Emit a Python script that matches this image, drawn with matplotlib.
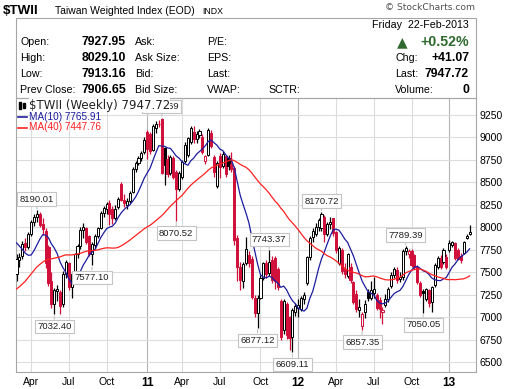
import numpy as np
import pandas as pd
import matplotlib
matplotlib.use('Agg')
import matplotlib.pyplot as plt
from matplotlib.patches import Rectangle

# weekly bars, first bar is the week ending 26-Feb-2010
first_week = '2010-02-26'

# closes before the first visible bar (needed for the moving averages)
prior_closes = [6700, 6620, 6550, 6300, 6430, 6560, 6620, 6900, 6950, 6830,
                6880, 6940, 7020, 7050, 6820, 6960, 7200, 7400, 7480, 7500,
                7580, 7680, 7500, 7400, 7560, 7700, 7730, 7800, 7780, 7910,
                8030, 8180, 8200, 8160, 8050, 7640, 7520, 7390, 7460]

opens = [
    7480, 7640, 7680, 7830, 7780, 7930, 8060, 8120, 8150, 8040,   # 0
    7960, 7780, 7400, 7150, 7290, 7280, 7150, 7480, 7600, 7340,   # 10
    7480, 7700, 7790, 7970, 7990, 7900, 7700, 7800, 7900, 7990,   # 20
    8160, 8210, 8270, 8210, 8110, 8230, 8480, 8300, 8250, 8290,   # 30
    8390, 8650, 8720, 8770, 8840, 9060, 9040, 8860, 9100, 9150,   # 40
    9200, 8880, 8760, 8600, 8770, 8620, 8430, 8560, 8740, 8800,   # 50
    8950, 9060, 8980, 9030, 9000, 8740, 8800, 9050, 8780, 8460,   # 60
    8790, 8680, 8790, 8770, 8700, 8660, 7880, 7560, 7400, 7600,   # 70
    7690, 7650, 7220, 7050, 7220, 7440, 7600, 7490, 7640, 7660,   # 80
    7540, 7180, 6860, 7150, 7000, 6780, 7060, 7100, 7090, 7200,   # 90
    7380, 7670, 7890, 7930, 8010, 7990, 8120, 7930, 8040, 8100,   # 100
    7950, 7600, 7750, 7540, 7460, 7560, 7390, 7260, 7080, 6900,   # 110
    7060, 7280, 7210, 7270, 7250, 7190, 7060, 7140, 7200, 7350,   # 120
    7470, 7530, 7430, 7450, 7740, 7700, 7740, 7690, 7560, 7380,   # 130
    7290, 7200, 7300, 7170, 7360, 7560, 7660, 7610, 7670, 7750,   # 140
    7800, 7825, 7750, 7680, 7720, 7880, 7927.95]                  # 150
highs = [
    7700, 7720, 7850, 7880, 7950, 8080, 8150, 8190.01, 8170, 8100,
    7990, 7800, 7500, 7330, 7360, 7300, 7520, 7640, 7620, 7500,
    7720, 7820, 8000, 8050, 8010, 7920, 7840, 7930, 8010, 8180,
    8240, 8280, 8300, 8240, 8250, 8340, 8500, 8370, 8330, 8400,
    8670, 8740, 8790, 8850, 9000, 9080, 9060, 9150, 9180, 9190,
    9220.69, 8890, 8800, 8800, 8790, 8640, 8630, 8750, 8950, 9010,
    9130, 9130, 9070, 9090, 9040, 8800, 9100, 9080, 8800, 8740,
    8830, 8850, 8800, 8800, 8840, 8680, 7920, 7620, 7620, 7890,
    7740, 7680, 7250, 7250, 7470, 7620, 7640, 7743.37, 7680, 7680,
    7560, 7200, 7200, 7170, 7020, 7100, 7160, 7200, 7240, 7280,
    7680, 7900, 7990, 8050, 8100, 8170.72, 8140, 8060, 8120, 8110,
    7960, 7790, 7770, 7600, 7720, 7600, 7400, 7300, 7200, 7060,
    7190, 7320, 7400, 7450, 7270, 7230, 7120, 7260, 7340, 7500,
    7560, 7560, 7500, 7760, 7789.39, 7760, 7760, 7700, 7580, 7400,
    7320, 7330, 7310, 7350, 7600, 7680, 7690, 7770, 7700, 7860,
    7850, 7840, 7770, 7720, 7850, 7930, 8029.10]
lows = [
    7400, 7560, 7650, 7740, 7760, 7900, 8020, 8060, 8000, 7920,
    7550, 7350, 7100, 7032.40, 7180, 7040, 7120, 7440, 7300, 7220,
    7460, 7660, 7760, 7880, 7810, 7680, 7577.10, 7760, 7880, 7980,
    8120, 8150, 8030, 8040, 8080, 8200, 8290, 8230, 8200, 8270,
    8380, 8620, 8690, 8740, 8820, 8760, 8820, 8850, 9050, 9120,
    8590, 8470, 8560, 8580, 8540, 8070.52, 8400, 8540, 8720, 8780,
    8930, 8940, 8940, 8990, 8820, 8700, 8790, 8880, 8560, 8440,
    8550, 8660, 8560, 8640, 8620, 7800, 7400, 7300, 7330, 7580,
    7560, 7200, 7000, 6877.12, 7200, 7420, 7440, 7460, 7380, 7320,
    7300, 6750, 6820, 6760, 6640, 6609.11, 7020, 7000, 7070, 7150,
    7360, 7640, 7840, 7900, 7960, 7960, 7840, 7900, 7980, 7900,
    7720, 7580, 7480, 7440, 7440, 7380, 7150, 7060, 7000, 6857.35,
    6990, 7180, 7190, 7220, 7080, 6990, 6930, 7120, 7170, 7330,
    7440, 7380, 7390, 7420, 7690, 7660, 7560, 7540, 7370, 7230,
    7050.05, 7180, 7120, 7060, 7340, 7540, 7540, 7590, 7540, 7730,
    7780, 7640, 7640, 7600, 7700, 7870, 7913.16]
closes = [
    7650, 7670, 7820, 7780, 7930, 8060, 8120, 8150, 8030, 7980,
    7600, 7380, 7150, 7300, 7320, 7130, 7480, 7610, 7340, 7480,
    7700, 7790, 7970, 8000, 7840, 7700, 7810, 7900, 7990, 8160,
    8220, 8260, 8150, 8100, 8200, 8320, 8300, 8270, 8290, 8380,
    8650, 8720, 8770, 8830, 8970, 8870, 8850, 9130, 9150, 9145,
    8610, 8690, 8590, 8780, 8560, 8430, 8610, 8730, 8920, 8990,
    9110, 8980, 9040, 9070, 8840, 8790, 9080, 8900, 8620, 8720,
    8670, 8820, 8590, 8680, 8650, 7860, 7560, 7420, 7590, 7760,
    7600, 7230, 7050, 7220, 7440, 7600, 7480, 7610, 7420, 7400,
    7340, 6780, 7180, 6800, 6770, 7080, 7130, 7140, 7220, 7250,
    7670, 7880, 7960, 8010, 8080, 8150, 7930, 8040, 8060, 7940,
    7750, 7770, 7510, 7480, 7700, 7410, 7170, 7090, 7110, 7040,
    7150, 7220, 7300, 7320, 7100, 7090, 7080, 7200, 7320, 7470,
    7540, 7420, 7450, 7740, 7770, 7740, 7580, 7560, 7390, 7250,
    7270, 7310, 7160, 7340, 7580, 7660, 7560, 7750, 7560, 7830,
    7840, 7660, 7650, 7640, 7836, 7906.65, 7947.72]

# bars that carry a value label
peak_bars = [7, 50, 87, 105, 134]
trough_bars = [13, 26, 55, 83, 95, 119, 140]

price_ticks = [6500, 6750, 7000, 7250, 7500, 7750, 8000, 8250, 8500, 8750, 9000, 9250]

W, H = 511, 389
RED = '#d0103a'
GRID = '#dcdcdc'
FRAME = '#a6a6a6'


def fx(px):
    return px / W


def fy(py):
    return 1 - py / H


n = len(closes)
idx = np.arange(n)
dates = pd.date_range(first_week, periods=n, freq='W-FRI')
all_closes = pd.Series(prior_closes + closes, dtype=float)
ma10 = all_closes.rolling(10).mean().to_numpy()[-n:]
ma40 = all_closes.rolling(40).mean().to_numpy()[-n:]
prev_close = [prior_closes[-1]] + closes[:-1]

fig = plt.figure(figsize=(W / 100, H / 100), dpi=100)
ax = fig.add_axes([fx(15.7), fy(372), fx(460), 274 / H])

# candles
for i in idx:
    o, h, l, c = opens[i], highs[i], lows[i], closes[i]
    col = 'black' if c >= prev_close[i] else RED
    face = col if c < o else 'white'
    ax.vlines(i, l, h, color=col, lw=0.9, zorder=2)
    body = max(abs(c - o), 6)
    ax.add_patch(Rectangle((i - 0.36, min(o, c)), 0.72, body,
                           facecolor=face, edgecolor=col, lw=0.7, zorder=3))

ax.plot(idx, ma10, color='#1c1ca0', lw=0.9, zorder=4)
ax.plot(idx, ma40, color='#ff2020', lw=0.9, zorder=4)

# value labels
lab_font = dict(family='Liberation Sans', size=6.8, color='#202020')
box = dict(boxstyle='square,pad=0.25', fc='white', ec='#c4c4c4', lw=0.8)
for i in peak_bars:
    ax.annotate(f'{highs[i]:.2f}', (i, highs[i]), xytext=(0, 11),
                textcoords='offset pixels', ha='center', va='center',
                bbox=box, zorder=6, **lab_font,
                arrowprops=dict(arrowstyle='-', color='#c4c4c4', lw=0.8,
                                shrinkA=0, shrinkB=1))
for i in trough_bars:
    ax.annotate(f'{lows[i]:.2f}', (i, lows[i]), xytext=(0, -12),
                textcoords='offset pixels', ha='center', va='center',
                bbox=box, zorder=6, **lab_font,
                arrowprops=dict(arrowstyle='-', color='#c4c4c4', lw=0.8,
                                shrinkA=0, shrinkB=1))

# axes
ax.set_xlim(-0.28, 158.1)
ax.set_ylim(6392, 9439)
ax.set_yticks(price_ticks)
ax.yaxis.tick_right()
ax.tick_params(axis='y', length=0, pad=2.5, labelsize=7.5)
for t in ax.get_yticklabels():
    t.set_family('Liberation Sans')
ax.grid(axis='y', color=GRID, lw=0.8, zorder=0)

tick_pos, tick_lab, year_pos = [], [], []
for i in range(1, n):
    if dates[i].month != dates[i - 1].month and dates[i].month in (1, 4, 7, 10):
        tick_pos.append(i)
        if dates[i].month == 1:
            tick_lab.append(dates[i].strftime('%y'))
            year_pos.append(i)
        else:
            tick_lab.append(dates[i].strftime('%b'))
ax.set_xticks(tick_pos)
ax.set_xticklabels(tick_lab)
ax.tick_params(axis='x', length=0, pad=3.5, labelsize=7.5)
for t in ax.get_xticklabels():
    t.set_family('Liberation Sans')
    if t.get_text().isdigit():
        t.set_fontweight('bold')
        t.set_fontsize(8.5)
for p in tick_pos:
    ax.axvline(p, color='#b4b4b4' if p in year_pos else GRID, lw=0.8, zorder=0)
for s in ax.spines.values():
    s.set_color(FRAME)
    s.set_linewidth(0.8)

# in-chart legend (its first line sits over the 9220.69 label, as in the source)
fig.text(fx(29), fy(105), '$TWII (Weekly) 7947.72', color='#222222',
         family='DejaVu Sans', size=8.5, va='center', ha='left',
         bbox=dict(boxstyle='square,pad=0.02', fc='white', ec='none'),
         zorder=10)
fig.add_artist(Rectangle((fx(19), fy(109)), fx(2), 7 / H, color='black',
                         transform=fig.transFigure, zorder=10))
fig.add_artist(Rectangle((fx(23), fy(108)), fx(2), 5 / H, color='black',
                         transform=fig.transFigure, zorder=10))
ma_font = dict(family='Liberation Sans', size=7.2, va='center', ha='left')
fig.text(fx(29), fy(117), 'MA(10) 7765.91', color='#1c1ca0', zorder=11, **ma_font)
fig.text(fx(29), fy(127.5), 'MA(40) 7447.76', color='#ff2020', **ma_font)
fig.add_artist(plt.Line2D([fx(18), fx(27)], [fy(117), fy(117)], color='#1c1ca0',
                          lw=1.2, transform=fig.transFigure))
fig.add_artist(plt.Line2D([fx(18), fx(27)], [fy(127.5), fy(127.5)], color='#ff2020',
                          lw=1.2, transform=fig.transFigure))

# header panel
fig.add_artist(Rectangle((fx(15.7), fy(98)), fx(460), 80 / H, fill=False,
                         ec=FRAME, lw=0.8, transform=fig.transFigure))
hdr = dict(family='Liberation Sans', va='center')
fig.text(fx(3), fy(11), '$TWII', size=9.6, weight='bold', **hdr)
fig.text(fx(55), fy(11.5), 'Taiwan Weighted Index (EOD)', size=7.5, **hdr)
fig.text(fx(202), fy(12), 'INDX', size=6.3, **hdr)
fig.text(fx(475), fy(8), '\u00a9 StockCharts.com', size=6.6, ha='right',
         color='#505050', family='DejaVu Sans', va='center')
fig.text(fx(469), fy(25), 'Friday  22-Feb-2013', size=7.7, ha='right', **hdr)

rows_y = [42, 58, 74, 90]
col1 = ['Open:', 'High:', 'Low:', 'Prev Close:']
col1_vals = ['7927.95', '8029.10', '7913.16', '7906.65']
col2 = ['Ask:', 'Ask Size:', 'Bid:', 'Bid Size:']
col3 = ['P/E:', 'EPS:', 'Last:', 'VWAP:']
for y, a, v, b, c in zip(rows_y, col1, col1_vals, col2, col3):
    fig.text(fx(20.5), fy(y), a, size=7.7, **hdr)
    fig.text(fx(126), fy(y), v, size=8.8, weight='bold', ha='right', **hdr)
    fig.text(fx(135), fy(y), b, size=7.7, **hdr)
    fig.text(fx(207), fy(y), c, size=7.7, **hdr)
fig.text(fx(268), fy(90), 'SCTR:', size=7.7, **hdr)

GREEN = '#2f6b2f'
fig.text(fx(397), fy(42), '\u25b2', size=10, color=GREEN, family='DejaVu Sans', va='center')
fig.text(fx(469), fy(42), '+0.52%', size=10.2, weight='bold', color=GREEN, ha='right', **hdr)
for y, a, v in zip(rows_y[1:], ['Chg:', 'Last:', 'Volume:'], ['+41.07', '7947.72', '0']):
    fig.text(fx(395), fy(y), a, size=7.7, **hdr)
    fig.text(fx(469), fy(y), v, size=8.8, weight='bold', ha='right', **hdr)

fig.savefig('out.png', dpi=100, facecolor='white')
